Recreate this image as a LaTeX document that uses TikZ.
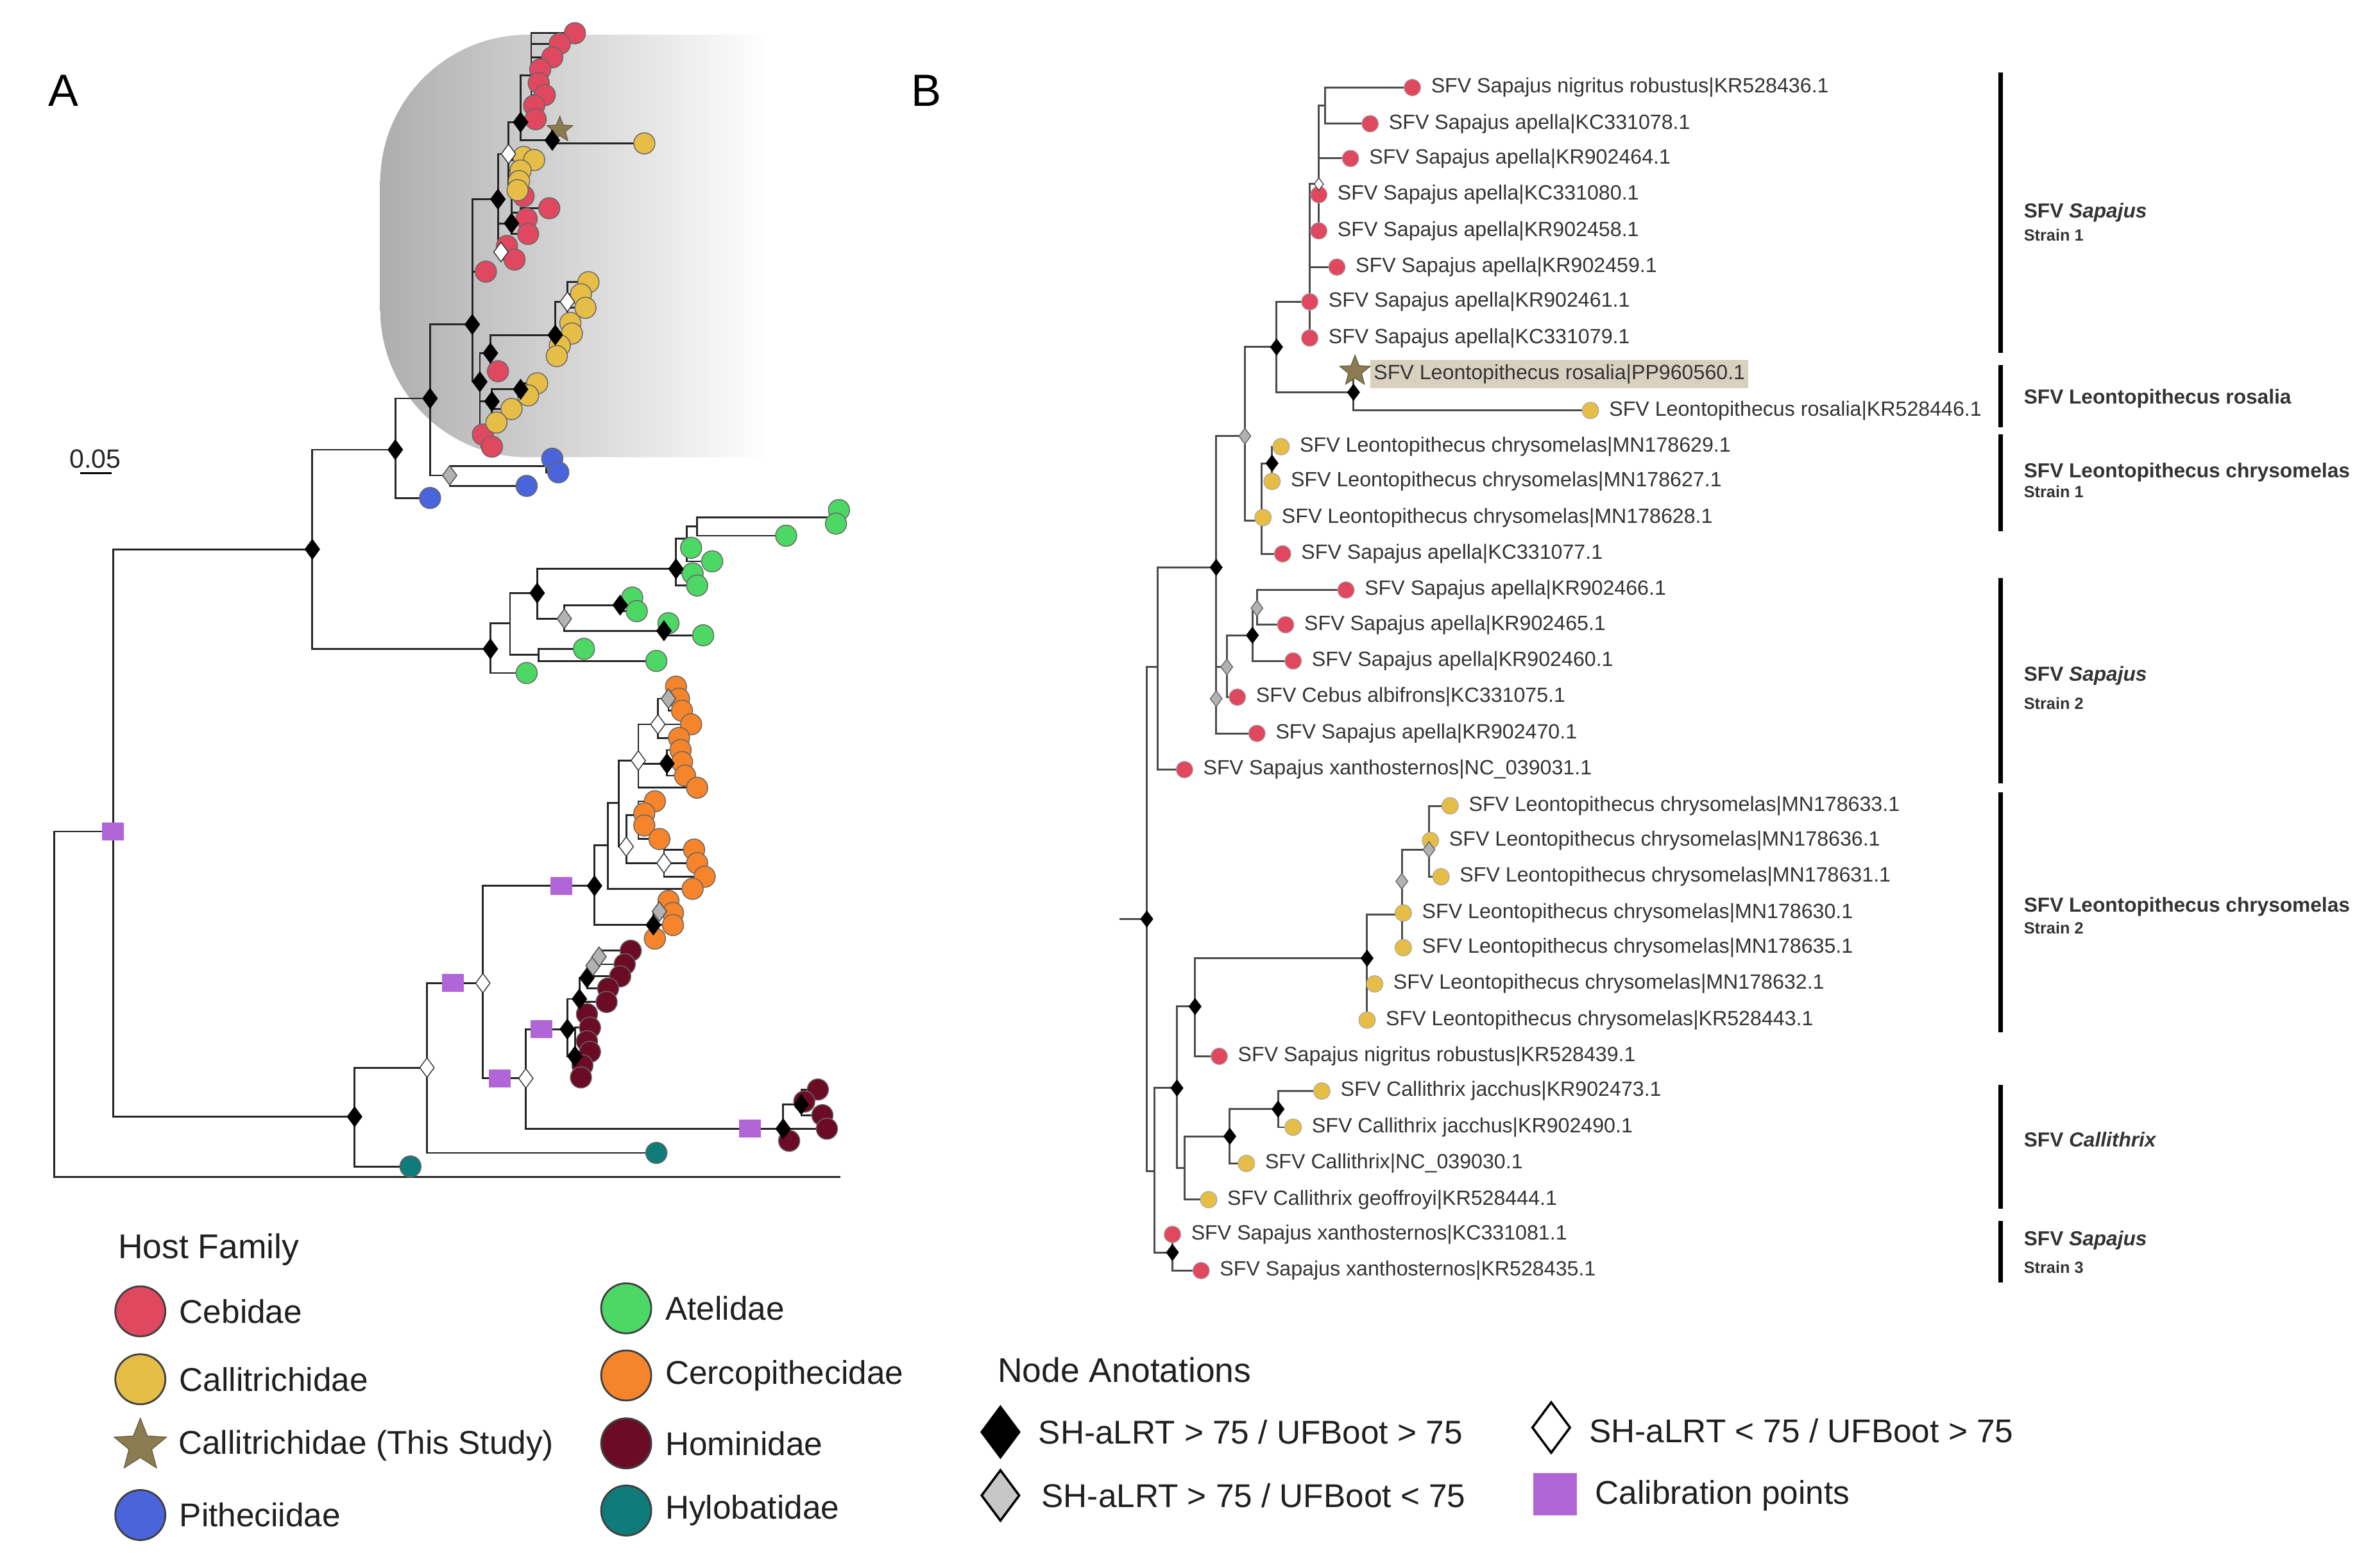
\documentclass[tikz,border=0pt]{standalone}
\usepackage{fontspec}
\setmainfont{Liberation Sans}
\usetikzlibrary{shapes.geometric}

\definecolor{cebid}{HTML}{E0485F}
\definecolor{callit}{HTML}{E6BD47}
\definecolor{pithe}{HTML}{4A64DB}
\definecolor{atel}{HTML}{4DD866}
\definecolor{cerco}{HTML}{F5842B}
\definecolor{homin}{HTML}{6C0B26}
\definecolor{hylob}{HTML}{0F7C7B}
\definecolor{study}{HTML}{8A7B50}
\definecolor{calib}{HTML}{B066D6}
\definecolor{hilite}{HTML}{D9D1BF}
\definecolor{ink}{HTML}{333333}

\tikzset{
  brA/.style={draw=black!85, line width=0.8pt},
  brB/.style={draw=black!70, line width=0.85pt},
  tipA/.style={circle, inner sep=0pt, minimum size=0.33cm, draw=black!60, line width=0.4pt},
  tipB/.style={circle, inner sep=0pt, minimum size=0.26cm, draw=black!35, line width=0.3pt},
  leafB/.style={inner sep=0pt, label distance=0.15cm, text=ink, font=\fontsize{9.15}{11}\selectfont},
  diaA/.style={diamond, inner sep=0pt, minimum width=0.23cm, minimum height=0.31cm, draw=black, line width=0.4pt},
  diaB/.style={diamond, inner sep=0pt, minimum width=0.19cm, minimum height=0.25cm, draw=black, line width=0.4pt},
  calsq/.style={rectangle, inner sep=0pt, minimum width=0.34cm, minimum height=0.28cm, fill=calib},
  studystar/.style={star, star points=5, star point ratio=2.3, inner sep=0pt, fill=study, draw=study!70!black, line width=0.3pt},
  cladebar/.style={line width=2pt, draw=black},
  clade/.style={anchor=west, inner sep=0pt, text=ink, font=\bfseries\fontsize{9}{10}\selectfont},
  strain/.style={anchor=west, inner sep=0pt, text=ink, font=\bfseries\fontsize{7.2}{8}\selectfont},
  legtxt/.style={anchor=west, inner sep=0pt, text=black!88, font=\fontsize{14.6}{17}\selectfont},
  legdot/.style={circle, inner sep=0pt, minimum size=0.78cm, draw=black!75, line width=0.8pt},
  legdia/.style={diamond, inner sep=0pt, minimum width=0.6cm, minimum height=0.8cm, draw=black, line width=1pt},
}

% tips of panel A: name/x/y/colour
\def\tipsA{rA1/381/22/cebid, rA2/371/29/cebid, rA3/366/38/cebid, rA4/358/46/cebid, rA5/357/55/cebid,
  rA6/361/63/cebid, rA7/354/70/cebid, rA8/355/79/cebid, rA9/347/130/cebid, rA10/364/138/cebid,
  rA11/349/145/cebid, rA12/350/155/cebid, rA13/336/163/cebid, rA14/341/172/cebid, rA15/322/180/cebid,
  rA16/330/246/cebid, rA17/320/288/cebid, rA18/326/296/cebid,
  yA1/347/104/callit, yA2/354/106/callit, yA3/345/113/callit, yA4/344/120/callit, yA5/343/126/callit,
  yA6/427/95/callit, yA7/390/187/callit, yA8/385/195/callit, yA9/388/204/callit, yA10/378/214/callit,
  yA11/379/221/callit, yA12/371/229/callit, yA13/369/236/callit, yA14/356/254/callit, yA15/350/262/callit,
  yA16/339/271/callit, yA17/329/280/callit,
  pA1/366/304/pithe, pA2/370/313/pithe, pA3/349/322/pithe, pA4/285/330/pithe,
  gA1/556/338/atel, gA2/554/347/atel, gA3/521/355/atel, gA4/458/363/atel, gA5/472/372/atel,
  gA6/459/380/atel, gA7/462/388/atel, gA8/419/396/atel, gA9/422/405/atel, gA10/443/413/atel,
  gA11/466/421/atel, gA12/387/430/atel, gA13/435/438/atel, gA14/349/446/atel,
  oA1/448/455/cerco, oA2/450/463/cerco, oA3/452/471/cerco, oA4/458/480/cerco, oA5/450/489/cerco,
  oA6/451/497/cerco, oA7/452/505/cerco, oA8/454/514/cerco, oA9/462/522/cerco, oA10/434/531/cerco,
  oA11/427/539/cerco, oA12/427/547/cerco, oA13/437/556/cerco, oA14/460/563/cerco, oA15/462/572/cerco,
  oA16/467/581/cerco, oA17/459/589/cerco, oA18/443/597/cerco, oA19/446/605/cerco, oA20/446/613/cerco,
  oA21/434/622/cerco,
  mA1/418/630/homin, mA2/414/639/homin, mA3/411/647/homin, mA4/403/655/homin, mA5/402/664/homin,
  mA6/389/672/homin, mA7/391/681/homin, mA8/389/690/homin, mA9/391/697/homin, mA10/386/706/homin,
  mA11/385/714/homin, mA12/542/722/homin, mA13/533/730/homin, mA14/545/739/homin, mA15/548/748/homin,
  mA16/523/756/homin,
  lA1/272/773/hylob, lA2/435/764/hylob}

% tips of panel B: name/x/y/colour/label
\def\tipsB{tB1/936/58/cebid/{SFV Sapajus nigritus robustus|KR528436.1},
  tB2/908/82/cebid/{SFV Sapajus apella|KC331078.1},
  tB3/895/105/cebid/{SFV Sapajus apella|KR902464.1},
  tB4/874/129/cebid/{SFV Sapajus apella|KC331080.1},
  tB5/874/153/cebid/{SFV Sapajus apella|KR902458.1},
  tB6/886/177/cebid/{SFV Sapajus apella|KR902459.1},
  tB7/868/200/cebid/{SFV Sapajus apella|KR902461.1},
  tB8/868/224/cebid/{SFV Sapajus apella|KC331079.1},
  tB10/1054/272/callit/{SFV Leontopithecus rosalia|KR528446.1},
  tB11/849/296/callit/{SFV Leontopithecus chrysomelas|MN178629.1},
  tB12/843/319/callit/{SFV Leontopithecus chrysomelas|MN178627.1},
  tB13/837/343/callit/{SFV Leontopithecus chrysomelas|MN178628.1},
  tB14/850/367/cebid/{SFV Sapajus apella|KC331077.1},
  tB15/892/391/cebid/{SFV Sapajus apella|KR902466.1},
  tB16/852/414/cebid/{SFV Sapajus apella|KR902465.1},
  tB17/857/438/cebid/{SFV Sapajus apella|KR902460.1},
  tB18/820/462/cebid/{SFV Cebus albifrons|KC331075.1},
  tB19/833/486/cebid/{SFV Sapajus apella|KR902470.1},
  tB20/785/510/cebid/{SFV Sapajus xanthosternos|NC\_039031.1},
  tB21/961/534/callit/{SFV Leontopithecus chrysomelas|MN178633.1},
  tB22/948/557/callit/{SFV Leontopithecus chrysomelas|MN178636.1},
  tB23/955/581/callit/{SFV Leontopithecus chrysomelas|MN178631.1},
  tB24/930/605/callit/{SFV Leontopithecus chrysomelas|MN178630.1},
  tB25/930/628/callit/{SFV Leontopithecus chrysomelas|MN178635.1},
  tB26/911/652/callit/{SFV Leontopithecus chrysomelas|MN178632.1},
  tB27/906/676/callit/{SFV Leontopithecus chrysomelas|KR528443.1},
  tB28/808/700/cebid/{SFV Sapajus nigritus robustus|KR528439.1},
  tB29/876/723/callit/{SFV Callithrix jacchus|KR902473.1},
  tB30/857/747/callit/{SFV Callithrix jacchus|KR902490.1},
  tB31/826/771/callit/{SFV Callithrix|NC\_039030.1},
  tB32/801/795/callit/{SFV Callithrix geoffroyi|KR528444.1},
  tB33/777/818/cebid/{SFV Sapajus xanthosternos|KC331081.1},
  tB34/796/842/cebid/{SFV Sapajus xanthosternos|KR528435.1}}

\begin{document}
\begin{tikzpicture}[x=0.02352cm, y=-0.02352cm]
\useasboundingbox (0,0) rectangle (1568,1039);

% ---------- panel A ----------
\shade[left color=black!32, right color=white, rounded corners=2.3cm] (510,23) -- (252,23) -- (252,303) -- (510,303);

\foreach \n/\x/\y in {aR/36/700, aout/557/780, a1/75/551, a2/207/364, a3/235/740,
  c00/262/298, c1/285/264, c2/313/215, c3/330/132, c6/337/102, c8/345/81, c9/352/50, c10/366/93,
  c7/339/148, c7b/345/141, c11/332/167, c15/318/253, c4/325/234, c13/368/222, c13b/376/200,
  c16/326/266, c17/345/258, c5/319/292, cp/298/315, cp1/362/309, sA/371/86,
  e0/325/430, e1/338/413, e2/356/393, e3/357/434, e4/448/377, e5/374/410, e6/411/401,
  e7/440/418, e8/455/357, e9/462/349, e10/550/343,
  w1/283/707.5, w2/320/651.5, w3/348.5/714.6,
  k0/394/587, k1/403/560, k2/433/613, k2b/437/604, k3/410/532, k4/423/504, k5/415/561,
  k6/436/480, k7/442/506, k8/443/463, k9/423/540, k10/440/572,
  h0/376/682, h1/384/662, h2/389/648, h3/381/700, h4/393/640, h5/397/634, h6/519/748, h7/531/732}
  \coordinate (\n) at (\x,\y);
\foreach \n/\x/\y/\col in \tipsA {\coordinate (\n) at (\x,\y);}

\foreach \p/\q in {aR/a1, aR/aout, a1/a2, a1/a3, a2/c00, a2/e0, c00/c1, c00/pA4, c1/c2, c1/cp,
  cp/cp1, cp/pA3, cp1/pA1, cp1/pA2, c2/c3, c2/rA15, c2/c15, c3/c6, c3/c7, c3/c11,
  c6/c8, c6/yA1, c6/yA2, c6/yA3, c6/yA4, c6/yA5, c8/c9, c8/c10,
  c9/rA1, c9/rA2, c9/rA3, c9/rA4, c9/rA5, c9/rA6, c9/rA7, c9/rA8, c10/sA, c10/yA6,
  c7/rA9, c7/c7b, c7/rA12, c7b/rA10, c7b/rA11, c11/rA13, c11/rA14,
  c15/c4, c15/c16, c15/c5, c4/c13, c4/rA16, c13/c13b, c13/yA11, c13/yA12, c13/yA13,
  c13b/yA7, c13b/yA8, c13b/yA9, c13b/yA10, c16/c17, c16/yA16, c16/yA17, c17/yA14, c17/yA15,
  c5/rA17, c5/rA18,
  e0/e1, e0/gA14, e1/e2, e1/e3, e2/e4, e2/e5, e3/gA12, e3/gA13, e4/e8, e4/gA6, e4/gA7,
  e8/e9, e8/gA4, e8/gA5, e9/e10, e9/gA3, e10/gA1, e10/gA2, e5/e6, e5/e7,
  e6/gA8, e6/gA9, e7/gA10, e7/gA11,
  a3/w1, a3/lA1, w1/w2, w1/lA2, w2/k0, w2/w3, w3/h0, w3/h6,
  k0/k1, k0/k2, k1/k3, k1/oA17, k3/k4, k3/k5, k4/k6, k4/k7, k4/oA9, k6/k8, k6/oA4, k6/oA5,
  k8/oA1, k8/oA2, k8/oA3, k7/oA6, k7/oA7, k7/oA8, k5/k9, k5/k10,
  k9/oA10, k9/oA11, k9/oA12, k9/oA13, k10/oA14, k10/oA15, k10/oA16,
  k2/k2b, k2/oA20, k2/oA21, k2b/oA18, k2b/oA19,
  h0/h1, h0/h3, h1/h2, h1/mA5, h1/mA6, h2/h4, h2/mA4, h4/h5, h4/mA3, h5/mA1, h5/mA2,
  h3/mA7, h3/mA8, h3/mA9, h3/mA10, h3/mA11, h6/h7, h6/mA15, h6/mA16, h7/mA12, h7/mA13, h7/mA14}
  \draw[brA] (\p) |- (\q);

% calibration points
\node[calsq] (ma1) at (a1) {};
\foreach \n/\x/\y in {cal2/300/651.5, cal3/372/587, cal4/331/714.6, cal5/359/682, cal6/497/748}
  \node[calsq] (\n) at (\x,\y) {};

\foreach \n/\x/\y/\col in \tipsA {\node[tipA, fill=\col] (d\n) at (\n) {};}
\node[studystar, minimum size=0.42cm] (dsA) at (sA) {};

\foreach \n in {a2,a3,c00,c1,c2,c3,c8,c10,c7,c15,c4,c13,c16,c17,e0,e2,e4,e6,e7,k0,k2,k7,h0,h1,h2,h3,h6,h7}
  \node[diaA, fill=black] (m\n) at (\n) {};
\foreach \n in {cp,e5,k2b,h4,h5,k8}
  \node[diaA, fill=black!30, draw=black!70] (m\n) at (\n) {};
\foreach \n in {c6,c11,c13b,w1,w2,w3,k4,k5,k6,k10}
  \node[diaA, fill=white, draw=black!80] (m\n) at (\n) {};

\node[font=\fontsize{20}{24}\selectfont] (labA) at (42,60) {A};
\node[font=\fontsize{11.7}{14}\selectfont, text=black!85] (scl) at (63,304) {0.05};
\draw[line width=0.9pt] (53,313.5) -- (74,313.5);

% ---------- panel B ----------
\foreach \n/\x/\y in {bstub/742/609, bR/760/609, bK/767/442, bU1/806/376, bT/825/289, bS/806/463,
  bRr/813/442, bQ/830/421, bP/833/403, bV0/836/345, bV/843/307, bW/846/230, bS1/868/200,
  bN2/874/122, bN1/878/70, bX/897/260, bJ/765/776, bH/780/721, bD/792/667, bC/906/635,
  bB0/929/606, bBg/929/584, bA/947/563, bG/785/774, bF/815/753, bE/847/735, bI/777/830, tB9/898/246}
  \coordinate (\n) at (\x,\y);
\foreach \n/\x/\y/\col/\lab in \tipsB {\coordinate (\n) at (\x,\y);}

\draw[brB] (bstub) -- (bR);
\foreach \p/\q in {bR/bK, bR/bJ, bK/bU1, bK/tB20, bU1/bT, bU1/bS, bS/bRr, bS/tB19, bRr/bQ, bRr/tB18,
  bQ/bP, bQ/tB17, bP/tB15, bP/tB16, bT/bW, bT/bV0, bV0/bV, bV0/tB13, bV0/tB14, bV/tB11, bV/tB12,
  bW/bS1, bW/bX, bS1/bN2, bS1/tB6, bS1/tB7, bS1/tB8, bN2/bN1, bN2/tB3, bN2/tB4, bN2/tB5,
  bN1/tB1, bN1/tB2, bX/tB9, bX/tB10, bJ/bH, bJ/bI, bH/bD, bH/bG, bD/bC, bD/tB28,
  bC/bB0, bC/tB26, bC/tB27, bB0/bBg, bB0/tB24, bB0/tB25, bBg/bA, bA/tB21, bA/tB22, bA/tB23,
  bG/bF, bG/tB32, bF/bE, bF/tB31, bE/tB29, bE/tB30, bI/tB33, bI/tB34}
  \draw[brB] (\p) |- (\q);

\foreach \n/\x/\y/\col/\lab in \tipsB
  {\node[tipB, fill=\col, label={[leafB]right:\lab}] (d\n) at (\n) {};}
\node[leafB, anchor=west, fill=hilite, inner xsep=0.05cm, inner ysep=0.07cm] (hlB) at (908,248)
  {SFV Leontopithecus rosalia|PP960560.1};
\node[studystar, minimum size=0.5cm] (dtB9) at (tB9) {};

\foreach \n in {bR,bU1,bQ,bV,bW,bX,bC,bD,bH,bF,bE,bI}
  \node[diaB, fill=black] (m\n) at (\n) {};
\foreach \n in {bT,bS,bRr,bP,bBg,bA}
  \node[diaB, fill=black!30, draw=black!60] (m\n) at (\n) {};
\node[diaB, fill=white, draw=black!70, minimum width=0.15cm, minimum height=0.2cm] (mbN2) at (bN2) {};

\node[font=\fontsize{20}{24}\selectfont] (labB) at (614,60) {B};

% clade bars
\foreach \ya/\yb in {48/234, 242/283, 288/352, 383/519, 525/684, 719/801, 809/850}
  \draw[cladebar] (1326,\ya) -- (1326,\yb);
\node[clade] (cl1) at (1341,141) {SFV \textit{Sapajus}};
\node[strain] (st1) at (1341,156) {Strain 1};
\node[clade] (cl2) at (1341,264) {SFV Leontopithecus rosalia};
\node[clade] (cl3) at (1341,313) {SFV Leontopithecus chrysomelas};
\node[strain] (st3) at (1341,326) {Strain 1};
\node[clade] (cl4) at (1341,448) {SFV \textit{Sapajus}};
\node[strain] (st4) at (1341,466) {Strain 2};
\node[clade] (cl5) at (1341,601) {SFV Leontopithecus chrysomelas};
\node[strain] (st5) at (1341,615) {Strain 2};
\node[clade] (cl6) at (1341,755) {SFV \textit{Callithrix}};
\node[clade] (cl7) at (1341,822) {SFV \textit{Sapajus}};
\node[strain] (st7) at (1341,840) {Strain 3};

% ---------- legends ----------
\node[legtxt, font=\fontsize{15.2}{18}\selectfont] (hostT) at (78,828) {Host Family};
\foreach \n/\x/\y/\col/\lab in {lg1/93/869/cebid/Cebidae, lg2/93/914/callit/Callitrichidae,
  lg4/93/1004/pithe/Pitheciidae, lg5/415/867/atel/Atelidae, lg6/415/911.5/cerco/Cercopithecidae,
  lg7/415/956.5/homin/Hominidae, lg8/415/1001/hylob/Hylobatidae}
  \node[legdot, fill=\col, label={[legtxt, label distance=0.2cm]right:\lab}] (\n) at (\x,\y) {};
\node[studystar, minimum size=0.86cm] (lg3) at (93,958) {};
\node[legtxt] (lg3t) at (118,958) {Callitrichidae (This Study)};

\node[legtxt, font=\fontsize{15.2}{18}\selectfont] (annT) at (661,908) {Node Anotations};
\node[legdia, fill=black] (la1) at (663,949) {};
\node[legtxt] (la1t) at (688,949) {SH-aLRT > 75 / UFBoot > 75};
\node[legdia, fill=black!22] (la2) at (663,991) {};
\node[legtxt] (la2t) at (690,991) {SH-aLRT > 75 / UFBoot < 75};
\node[legdia, fill=white] (la3) at (1028,946) {};
\node[legtxt] (la3t) at (1053,948) {SH-aLRT < 75 / UFBoot > 75};
\node[calsq, minimum width=0.68cm, minimum height=0.66cm] (la4) at (1030.5,990) {};
\node[legtxt] (la4t) at (1057,991) {Calibration points};
\end{tikzpicture}
\end{document}
